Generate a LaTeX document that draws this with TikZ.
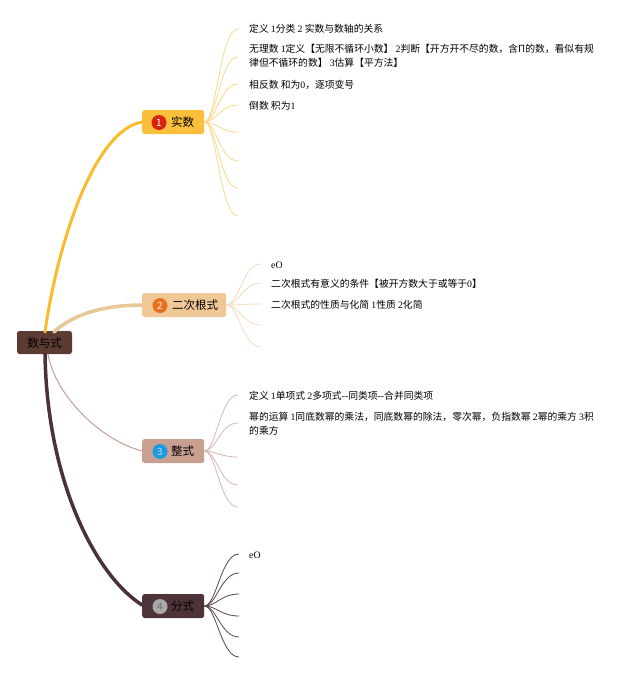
\documentclass[tikz,border=0pt]{standalone}
\usepackage{fontspec}
\setmainfont{Noto Sans CJK SC}
\newfontfamily\latf{Liberation Serif}
\newcommand\sernum[1]{{\latf #1}}
\definecolor{rootc}{HTML}{5B3B32}
\definecolor{c1}{HTML}{FBBF3B}
\definecolor{l1}{HTML}{F9BC2C}
\definecolor{f1}{HTML}{FCD88A}
\definecolor{c2}{HTML}{EFC896}
\definecolor{l2}{HTML}{E8C896}
\definecolor{f2}{HTML}{F1DCC0}
\definecolor{c3}{HTML}{C9A08F}
\definecolor{l3}{HTML}{C5A095}
\definecolor{f3}{HTML}{D5B8B0}
\definecolor{c4}{HTML}{4E3338}
\definecolor{l4}{HTML}{4A3237}
\definecolor{f4}{HTML}{5A4548}
\definecolor{k1}{HTML}{D9230F}
\definecolor{k2}{HTML}{E8701E}
\definecolor{k3}{HTML}{1E9BE0}
\definecolor{k4}{HTML}{A9A9A9}
\begin{document}
\begin{tikzpicture}[x=1pt,y=-1pt,
  box/.style={rectangle, rounded corners=2.5pt, minimum height=24pt, inner sep=0pt, anchor=west},
  numc/.style={circle, minimum size=15pt, inner sep=0pt, font=\fontsize{10}{10}\selectfont},
  lbl/.style={anchor=west, inner sep=0pt, font=\fontsize{11.5}{14}\selectfont},
  leaf/.style={anchor=west, inner sep=0pt, align=left, font=\fontsize{9.8}{14}\selectfont},
  fanline/.style={line width=0.8pt},
  trunk/.style={line cap=round}]
\useasboundingbox[fill=white] (0,0) rectangle (640,675);

% root
\node[box, fill=rootc, minimum width=55pt, minimum height=23pt, anchor=center] (root) at (44.5,342.5) {};
\node[inner sep=0pt, text=black, font=\fontsize{11.5}{14}\selectfont] (roott) at (44.5,343) {数与式};

% main branches
\draw[trunk, l1, line width=3pt] (45,332) .. controls (58,240) and (95,130) .. (142,122);
\draw[trunk, l2, line width=3.5pt] (54,332) .. controls (75,312) and (110,305) .. (142,305);
\draw[trunk, l3, line width=1pt] (48,354) .. controls (55,395) and (100,440) .. (142,451);
\draw[trunk, l4, line width=3.5pt] (45,354) .. controls (47,480) and (95,575) .. (142,605);

% branch 1
\node[box, fill=c1, minimum width=62pt] (n1) at (142,122) {};
\node[numc, fill=k1, text=white] (b1) at (159,122.5) {1};
\node[lbl] (t1) at (171,122.5) {实数};
% branch 2
\node[box, fill=c2, minimum width=84pt] (n2) at (142,305) {};
\node[numc, fill=k2, text=white!85!k2] (b2) at (160,305.5) {2};
\node[lbl] (t2) at (172,305.5) {二次根式};
% branch 3
\node[box, fill=c3, minimum width=62pt] (n3) at (142,451) {};
\node[numc, fill=k3, text=white!70!k3] (b3) at (160,451.5) {3};
\node[lbl] (t3) at (171,451.5) {整式};
% branch 4
\node[box, fill=c4, minimum width=62pt] (n4) at (142,606) {};
\node[numc, fill=k4, text=black!55] (b4) at (160,606.5) {4};
\node[lbl] (t4) at (171,606.5) {分式};

% fan 1
\foreach \i/\y in {a/29,b/57,c/84,d/105,e/132,f/161,g/188,h/216}{
  \coordinate (p1\i) at (238,\y);
  \draw[fanline, f1] (n1.east) .. controls +(12,0) and +(-18,0) .. (p1\i);
}
\node[leaf] (q1a) at (249,29) {定义 \sernum{1}分类 \sernum{2} 实数与数轴的关系};
\node[leaf] (q1b) at (249,56) {无理数 \sernum{1}定义【无限不循环小数】 \sernum{2}判断【开方开不尽的数，含Π的数，看似有规\\律但不循环的数】 \sernum{3}估算【平方法】};
\node[leaf] (q1c) at (249,84.5) {相反数 和为\sernum{0}，逐项变号};
\node[leaf] (q1d) at (249,106) {倒数 积为\sernum{1}};

% fan 2
\foreach \i/\y in {a/264,b/283,c/304,d/325,e/347}{
  \coordinate (p2\i) at (261,\y);
  \draw[fanline, f2] (n2.east) .. controls +(12,0) and +(-18,0) .. (p2\i);
}
\node[leaf] (q2a) at (271,265) {\sernum{eO}};
\node[leaf] (q2b) at (271,284) {二次根式有意义的条件【被开方数大于或等于\sernum{0}】};
\node[leaf] (q2c) at (271,305) {二次根式的性质与化简 \sernum{1}性质 \sernum{2}化简};

% fan 3
\foreach \i/\y in {a/395,b/423,c/457,d/485,e/507}{
  \coordinate (p3\i) at (238,\y);
  \draw[fanline, f3] (n3.east) .. controls +(12,0) and +(-18,0) .. (p3\i);
}
\node[leaf] (q3a) at (249,396) {定义 \sernum{1}单项式 \sernum{2}多项式\sernum{--}同类项\sernum{--}合并同类项};
\node[leaf] (q3b) at (249,423.5) {幂的运算 \sernum{1}同底数幂的乘法，同底数幂的除法，零次幂，负指数幂 \sernum{2}幂的乘方 \sernum{3}积\\的乘方};

% fan 4
\foreach \i/\y in {a/554,b/573,c/594,d/616,e/637,f/657}{
  \coordinate (p4\i) at (239,\y);
  \draw[fanline, f4] (n4.east) .. controls +(12,0) and +(-18,0) .. (p4\i);
}
\node[leaf] (q4a) at (249,555) {\sernum{eO}};
\end{tikzpicture}
\end{document}
